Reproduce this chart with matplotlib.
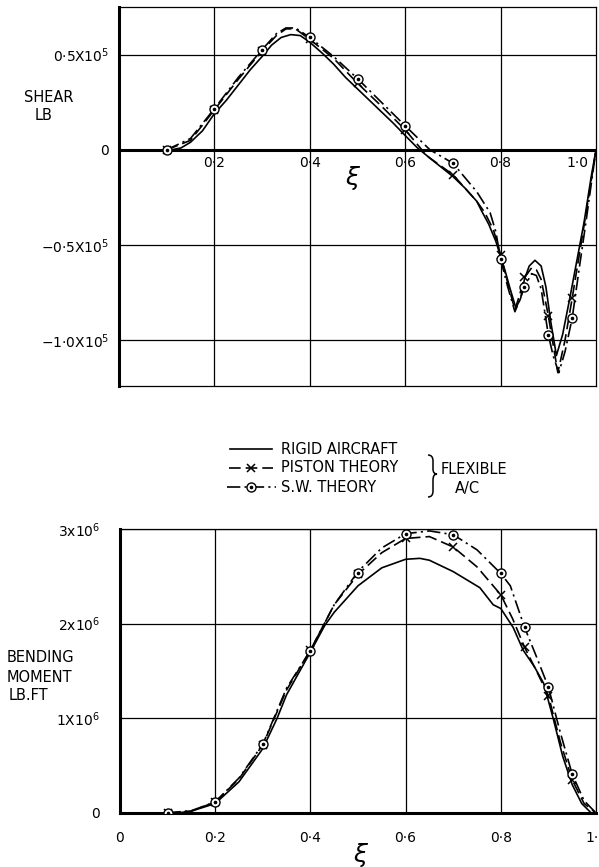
import matplotlib
matplotlib.use("Agg")
import matplotlib.pyplot as plt
from matplotlib.path import Path
from matplotlib.patches import PathPatch

plt.rcParams['font.family'] = ['DejaVu Sans']
plt.rcParams['mathtext.fontset'] = 'dejavusans'

# ---------------- Shear (units of 1e5 lb) ----------------
shear_rigid_x = [0.11, 0.13, 0.15, 0.175, 0.20, 0.225, 0.25, 0.275, 0.30, 0.32, 0.34, 0.36,
                 0.38, 0.40, 0.425, 0.45, 0.475, 0.50, 0.525, 0.55, 0.575, 0.60, 0.625,
                 0.65, 0.675, 0.70, 0.725, 0.75, 0.76, 0.775, 0.79, 0.80, 0.81, 0.82,
                 0.832, 0.842, 0.85, 0.86, 0.872, 0.885, 0.895, 0.905, 0.917, 0.93,
                 0.945, 0.96, 0.975, 0.99, 1.0]
shear_rigid_y = [0.0, 0.01, 0.04, 0.10, 0.19, 0.26, 0.34, 0.42, 0.49, 0.55, 0.59, 0.605,
                 0.60, 0.565, 0.51, 0.45, 0.38, 0.32, 0.26, 0.20, 0.14, 0.075, 0.012,
                 -0.04, -0.09, -0.14, -0.20, -0.27, -0.32, -0.39, -0.48, -0.56, -0.64, -0.73,
                 -0.83, -0.78, -0.68, -0.61, -0.58, -0.61, -0.72, -0.90, -1.08, -0.97,
                 -0.78, -0.58, -0.38, -0.14, 0.0]

shear_piston_x = [0.10, 0.15, 0.20, 0.25, 0.30, 0.33, 0.35, 0.37, 0.40, 0.45, 0.50, 0.55,
                  0.60, 0.635, 0.65, 0.70, 0.75, 0.767, 0.785, 0.80, 0.815, 0.83, 0.84,
                  0.85, 0.865, 0.875, 0.885, 0.90, 0.912, 0.92, 0.935, 0.95, 0.965, 0.98, 1.0]
shear_piston_y = [0.0, 0.05, 0.21, 0.37, 0.52, 0.60, 0.635, 0.635, 0.58, 0.48, 0.35, 0.23,
                  0.105, 0.0, -0.04, -0.13, -0.27, -0.33, -0.42, -0.55, -0.70, -0.84, -0.76,
                  -0.67, -0.62, -0.63, -0.68, -0.87, -1.05, -1.17, -1.00, -0.78, -0.55, -0.32, 0.0]

shear_sw_x = [0.10, 0.15, 0.20, 0.25, 0.30, 0.33, 0.35, 0.37, 0.40, 0.45, 0.50, 0.55,
              0.60, 0.652, 0.70, 0.75, 0.778, 0.79, 0.80, 0.815, 0.83, 0.84, 0.85, 0.865,
              0.875, 0.885, 0.90, 0.91, 0.922, 0.935, 0.95, 0.965, 0.98, 1.0]
shear_sw_y = [0.0, 0.06, 0.216, 0.38, 0.526, 0.61, 0.64, 0.64, 0.59, 0.49, 0.374, 0.25,
              0.126, 0.0, -0.07, -0.22, -0.33, -0.43, -0.574, -0.72, -0.85, -0.79, -0.72, -0.65,
              -0.66, -0.73, -0.97, -1.08, -1.17, -1.06, -0.885, -0.62, -0.36, 0.0]

shear_mark_x = [0.10, 0.20, 0.30, 0.40, 0.50, 0.60, 0.70, 0.80, 0.85, 0.90, 0.95]
shear_piston_mark = [0.0, 0.21, 0.52, 0.58, 0.35, 0.105, -0.13, -0.55, -0.67, -0.87, -0.78]
shear_sw_mark = [0.0, 0.216, 0.526, 0.59, 0.374, 0.126, -0.07, -0.574, -0.72, -0.97, -0.885]

# ---------------- Bending moment (units of 1e6 lb.ft) ----------------
bm_rigid_x = [0.12, 0.15, 0.20, 0.25, 0.30, 0.33, 0.35, 0.40, 0.43, 0.45, 0.50, 0.55,
              0.60, 0.63, 0.65, 0.70, 0.756, 0.784, 0.80, 0.826, 0.847, 0.87, 0.89,
              0.91, 0.93, 0.95, 0.97, 0.99]
bm_rigid_y = [0.0, 0.02, 0.10, 0.33, 0.68, 1.0, 1.25, 1.70, 1.98, 2.12, 2.40, 2.59,
              2.68, 2.69, 2.67, 2.55, 2.38, 2.20, 2.16, 1.96, 1.72, 1.55, 1.37,
              1.0, 0.60, 0.30, 0.10, 0.0]

bm_piston_x = [0.10, 0.15, 0.20, 0.25, 0.30, 0.35, 0.40, 0.45, 0.50, 0.55, 0.60, 0.65,
               0.70, 0.75, 0.80, 0.825, 0.85, 0.875, 0.90, 0.925, 0.95, 0.975, 1.0]
bm_piston_y = [0.0, 0.02, 0.116, 0.36, 0.72, 1.30, 1.72, 2.20, 2.52, 2.75, 2.90, 2.92,
               2.81, 2.60, 2.305, 2.05, 1.75, 1.50, 1.24, 0.75, 0.35, 0.10, 0.0]

bm_sw_x = [0.10, 0.15, 0.20, 0.25, 0.30, 0.35, 0.40, 0.45, 0.50, 0.55, 0.60, 0.65,
           0.70, 0.75, 0.80, 0.82, 0.85, 0.875, 0.90, 0.925, 0.95, 0.975, 1.0]
bm_sw_y = [0.0, 0.025, 0.116, 0.37, 0.726, 1.32, 1.716, 2.20, 2.55, 2.80, 2.95, 2.98,
           2.94, 2.78, 2.53, 2.40, 1.96, 1.65, 1.33, 0.85, 0.41, 0.13, 0.0]

bm_mark_x = [0.10, 0.20, 0.30, 0.40, 0.50, 0.60, 0.70, 0.80, 0.85, 0.90, 0.95]
bm_piston_mark = [0.0, 0.116, 0.72, 1.72, 2.52, 2.90, 2.81, 2.305, 1.75, 1.24, 0.35]
bm_sw_mark = [0.0, 0.116, 0.726, 1.716, 2.53, 2.95, 2.94, 2.53, 1.96, 1.33, 0.41]

shear_yticks = [-1.0, -0.5, 0.0, 0.5]
shear_ylabels = ["\u22121\u00b70X10$^5$", "\u22120\u00b75X10$^5$", "0", "0\u00b75X10$^5$"]
shear_xlabels = ["0\u00b72", "0\u00b74", "0\u00b76", "0\u00b78", "1\u00b70"]
bm_yticks = [0.0, 1.0, 2.0, 3.0]
bm_ylabels = ["0", "1X10$^6$", "2x10$^6$", "3x10$^6$"]
bm_xticks = [0.0, 0.2, 0.4, 0.6, 0.8, 1.0]
bm_xlabels = ["0", "0\u00b72", "0\u00b74", "0\u00b76", "0\u00b78", "1\u00b70"]

W, H = 599, 867
DASH = (0, (7, 3))
DASHDOT = (0, (8, 2.5, 1.3, 2.5))
LW = 1.2
TXT = 10.5

fig = plt.figure(figsize=(W / 100, H / 100), dpi=100)


def px_axes(left, top, right, bottom):
    return fig.add_axes([left / W, (H - bottom) / H, (right - left) / W, (bottom - top) / H])


def sw_marker(ax, x, y, size=6.5, z=5):
    ax.plot(x, y, ls='none', marker='o', ms=size, mfc='white', mec='black', mew=1.0, zorder=z)
    ax.plot(x, y, ls='none', marker='o', ms=1.6, mfc='black', mec='black', zorder=z + 1)


def piston_marker(ax, x, y, size=5.5, z=5):
    ax.plot(x, y, ls='none', marker='x', ms=size, mec='black', mew=1.1, zorder=z)


def style_axes(ax):
    for s in ax.spines.values():
        s.set_color('black')
        s.set_linewidth(0.9)
    ax.tick_params(length=0, labelsize=10)
    ax.grid(True, color='black', lw=0.9)
    ax.set_axisbelow(True)


# ---------------- Shear chart ----------------
ax1 = px_axes(119, 7, 596, 386)
style_axes(ax1)
ax1.set_xlim(0, 1.0)
ax1.set_ylim(-1.24, 0.75)
ax1.spines['left'].set_linewidth(2.2)
ax1.set_xticks([0.2, 0.4, 0.6, 0.8])
ax1.set_xticklabels([])
ax1.set_yticks(shear_yticks)
ax1.set_yticklabels(shear_ylabels)
ax1.tick_params(axis='y', pad=7)
ax1.axhline(0, color='black', lw=2.2, zorder=2)

ax1.plot(shear_rigid_x, shear_rigid_y, color='black', lw=LW, zorder=3)
ax1.plot(shear_piston_x, shear_piston_y, color='black', lw=LW, ls=DASH, zorder=3)
ax1.plot(shear_sw_x, shear_sw_y, color='black', lw=LW, ls=DASHDOT, zorder=3)
piston_marker(ax1, shear_mark_x, shear_piston_mark)
sw_marker(ax1, shear_mark_x, shear_sw_mark)

for xv, lab in zip([0.2, 0.4, 0.6, 0.8, 0.985], shear_xlabels):
    ha = 'right' if lab == "1\u00b70" else 'center'
    ax1.text(xv, -0.07, lab, ha=ha, va='center', fontsize=10, zorder=4)
ax1.text(0.488, -0.15, "\u03be", ha='center', va='center', fontsize=18, style='italic')

fig.text(24 / W, 1 - 97 / H, "SHEAR", ha='left', va='center', fontsize=TXT)
fig.text(35 / W, 1 - 115 / H, "LB", ha='left', va='center', fontsize=TXT)

# ---------------- Legend ----------------
lg = fig.add_axes([0, 0, 1, 1])
lg.set_xlim(0, W)
lg.set_ylim(H, 0)
lg.axis('off')
lg.plot([230, 272], [449, 449], color='black', lw=LW)
lg.plot([229, 273], [468, 468], color='black', lw=LW, ls=DASH)
piston_marker(lg, [251], [468])
lg.plot([227, 276], [487, 487], color='black', lw=LW, ls=DASHDOT)
sw_marker(lg, [251], [487])
lg.text(281, 449, "RIGID AIRCRAFT", ha='left', va='center', fontsize=TXT)
lg.text(281, 468, "PISTON THEORY", ha='left', va='center', fontsize=TXT)
lg.text(281, 487, "S.W. THEORY", ha='left', va='center', fontsize=TXT)

# curly brace grouping the two flexible-aircraft entries
brace = Path(
    [(428, 455), (433, 455), (433, 461),
     (433, 469),
     (433, 474), (437, 474),
     (433, 474), (433, 480),
     (433, 491),
     (433, 497), (428, 497)],
    [Path.MOVETO, Path.CURVE3, Path.CURVE3,
     Path.LINETO,
     Path.CURVE3, Path.CURVE3,
     Path.CURVE3, Path.CURVE3,
     Path.LINETO,
     Path.CURVE3, Path.CURVE3])
lg.add_patch(PathPatch(brace, facecolor='none', edgecolor='black', lw=1.1))
lg.text(441, 470, "FLEXIBLE", ha='left', va='center', fontsize=TXT)
lg.text(455, 488, "A/C", ha='left', va='center', fontsize=TXT)

# ---------------- Bending moment chart ----------------
ax2 = px_axes(120, 529, 596, 813)
style_axes(ax2)
ax2.set_xlim(0, 1.0)
ax2.set_ylim(0, 3.0)
ax2.spines['left'].set_linewidth(2.2)
ax2.spines['bottom'].set_linewidth(2.2)
ax2.set_xticks(bm_xticks)
ax2.set_xticklabels(bm_xlabels)
ax2.set_yticks(bm_yticks)
ax2.set_yticklabels(bm_ylabels)
ax2.tick_params(axis='y', pad=14.5)
ax2.tick_params(axis='x', pad=13)

ax2.plot(bm_rigid_x, bm_rigid_y, color='black', lw=LW, zorder=3)
ax2.plot(bm_piston_x, bm_piston_y, color='black', lw=LW, ls=DASH, zorder=3)
ax2.plot(bm_sw_x, bm_sw_y, color='black', lw=LW, ls=DASHDOT, zorder=3)
piston_marker(ax2, bm_mark_x, bm_piston_mark)
sw_marker(ax2, bm_mark_x, bm_sw_mark)

fig.text(7 / W, 1 - 657 / H, "BENDING", ha='left', va='center', fontsize=TXT)
fig.text(7 / W, 1 - 677 / H, "MOMENT", ha='left', va='center', fontsize=TXT)
fig.text(9 / W, 1 - 695 / H, "LB.FT", ha='left', va='center', fontsize=TXT)
fig.text(360 / W, 1 - 855 / H, "\u03be", ha='center', va='center', fontsize=18, style='italic')

fig.savefig("out.png", dpi=100)
